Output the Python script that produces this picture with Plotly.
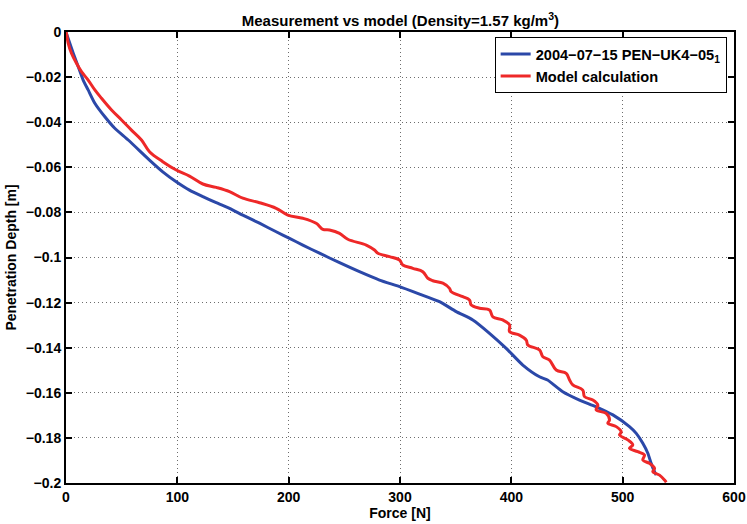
import plotly.graph_objects as go

# Measurement (blue) : force [N], depth [m]
meas_force = [0, 0.4, 3.4, 6.5, 11.0, 15.4, 19.9, 25.9, 34.9, 43.8, 55.9, 75.0, 86.9, 99.0,
              110.9, 122.9, 134.9, 146.9, 158.8, 173.8, 188.8, 200.8, 212.7, 227.7, 245.7,
              263.6, 281.6, 299.6, 317.5, 335.5, 350.5, 365.4, 380.4, 395.4, 410.3, 425.3,
              432.5, 446.2, 461.2, 476.2, 491.2, 506.1, 512.2, 518.1, 522.6, 525.6, 528.6, 530.1]
meas_depth = [0, -0.0006, -0.0050, -0.0094, -0.0154, -0.0213, -0.0257, -0.0316, -0.0376,
              -0.0427, -0.0479, -0.0568, -0.0620, -0.0664, -0.0701, -0.0730, -0.0757, -0.0782,
              -0.0812, -0.0848, -0.0886, -0.0915, -0.0945, -0.0981, -0.1023, -0.1063, -0.1100,
              -0.1129, -0.1162, -0.1196, -0.1240, -0.1277, -0.1336, -0.1403, -0.1477, -0.1529,
              -0.1543, -0.1595, -0.1632, -0.1662, -0.1698, -0.1750, -0.1780, -0.1824, -0.1868,
              -0.1913, -0.1950, -0.1965]

# Model calculation (red)
model_force = [0, 0.4, 2.0, 4.9, 9.4, 13.9, 19.9, 25.9, 31.9, 40.9, 49.9, 58.8, 67.8, 75.0,
               86.9, 99.0, 110.9, 122.9, 134.9, 146.9, 158.8, 173.8, 188.8, 199.2, 212.7, 224.7,
               230.7, 236.7, 245.7, 253.1, 269.7, 277.1, 280.1, 290.6, 299.6, 302.5, 311.5,
               320.5, 325.0, 329.5, 338.5, 344.5, 346.0, 356.4, 362.4, 364.0, 371.4, 380.4,
               383.4, 392.3, 398.4, 398.4, 407.3, 413.4, 414.8, 425.3, 428.3, 434.3, 440.3,
               449.3, 452.3, 455.2, 464.2, 465.7, 473.2, 477.7, 476.2, 485.2, 488.2, 486.7,
               494.2, 498.7, 497.2, 504.6, 509.1, 506.1, 513.6, 519.6, 518.1, 524.1, 528.6,
               527.1, 533.1, 537.6, 539.1]
model_depth = [0, -0.0006, -0.0050, -0.0094, -0.0139, -0.0176, -0.0213, -0.0257, -0.0294,
               -0.0346, -0.0390, -0.0435, -0.0479, -0.0531, -0.0575, -0.0612, -0.0639, -0.0674,
               -0.0689, -0.0708, -0.0737, -0.0757, -0.0782, -0.0812, -0.0826, -0.0848, -0.0875,
               -0.0878, -0.0893, -0.0919, -0.0945, -0.0967, -0.0981, -0.0996, -0.1011, -0.1033,
               -0.1048, -0.1063, -0.1092, -0.1103, -0.1114, -0.1137, -0.1152, -0.1174, -0.1188,
               -0.1211, -0.1225, -0.1233, -0.1263, -0.1277, -0.1299, -0.1329, -0.1344, -0.1366,
               -0.1388, -0.1410, -0.1440, -0.1455, -0.1499, -0.1514, -0.1543, -0.1565, -0.1588,
               -0.1617, -0.1632, -0.1654, -0.1676, -0.1691, -0.1721, -0.1735, -0.1750, -0.1773,
               -0.1787, -0.1809, -0.1831, -0.1846, -0.1861, -0.1876, -0.1898, -0.1913, -0.1935,
               -0.1950, -0.1965, -0.1987, -0.1997]

x_ticks = [0, 100, 200, 300, 400, 500, 600]
x_tick_labels = ["0", "100", "200", "300", "400", "500", "600"]
y_ticks = [0, -0.02, -0.04, -0.06, -0.08, -0.1, -0.12, -0.14, -0.16, -0.18, -0.2]
y_tick_labels = ["0", "\u22120.02", "\u22120.04", "\u22120.06", "\u22120.08", "\u22120.1",
                 "\u22120.12", "\u22120.14", "\u22120.16", "\u22120.18", "\u22120.2"]

meas_name = "2004\u221207\u221215 PEN\u2212UK4\u221205<sub>1</sub>"
model_name = "Model calculation"
title_text = "Measurement vs model (Density=1.57 kg/m<sup>3</sup>)"

FONT = "Liberation Sans, Arial, Helvetica, sans-serif"
BOLD = dict(family=FONT, size=14, color="black", weight="bold")
BOLD_L = dict(family=FONT, size=14.6, color="black", weight="bold")
BOLD_T = dict(family=FONT, size=15, color="black", weight="bold")

fig = go.Figure()
fig.add_trace(go.Scatter(x=meas_force, y=meas_depth, mode="lines", name=meas_name,
                         line=dict(color="rgb(43,72,168)", width=3, shape="spline",
                                   smoothing=0.6)))
fig.add_trace(go.Scatter(x=model_force, y=model_depth, mode="lines", name=model_name,
                         line=dict(color="rgb(238,40,40)", width=3, shape="spline",
                                   smoothing=1.0)))

axis_common = dict(
    showline=True, linecolor="black", linewidth=2, mirror="ticks",
    ticks="inside", ticklen=6, tickwidth=2, tickcolor="black",
    showgrid=True, gridcolor="rgba(60,60,60,0.75)", gridwidth=1, griddash="1px,3px",
    zeroline=False, automargin=False,
    tickfont=BOLD,
)

fig.update_layout(
    width=747, height=524,
    margin=dict(l=66, r=13, t=32, b=41, autoexpand=False),
    paper_bgcolor="white", plot_bgcolor="white",
    font=BOLD,
    title=dict(text=title_text, x=0.536, xanchor="center", y=0.96, yanchor="middle",
               font=BOLD_T),
    xaxis=dict(range=[0, 600], tickvals=x_ticks, ticktext=x_tick_labels,
               title=dict(text="Force [N]", standoff=4, font=BOLD),
               **axis_common),
    yaxis=dict(range=[-0.2, 0], tickvals=y_ticks, ticktext=y_tick_labels,
               title=dict(text="Penetration Depth [m]", standoff=6, font=BOLD),
               **axis_common),
    legend=dict(x=0.989, xanchor="right", y=0.989, yanchor="top",
                bgcolor="white", bordercolor="black", borderwidth=1,
                font=BOLD_L, tracegroupgap=0),
    showlegend=True,
)

fig.write_html("out.html")
